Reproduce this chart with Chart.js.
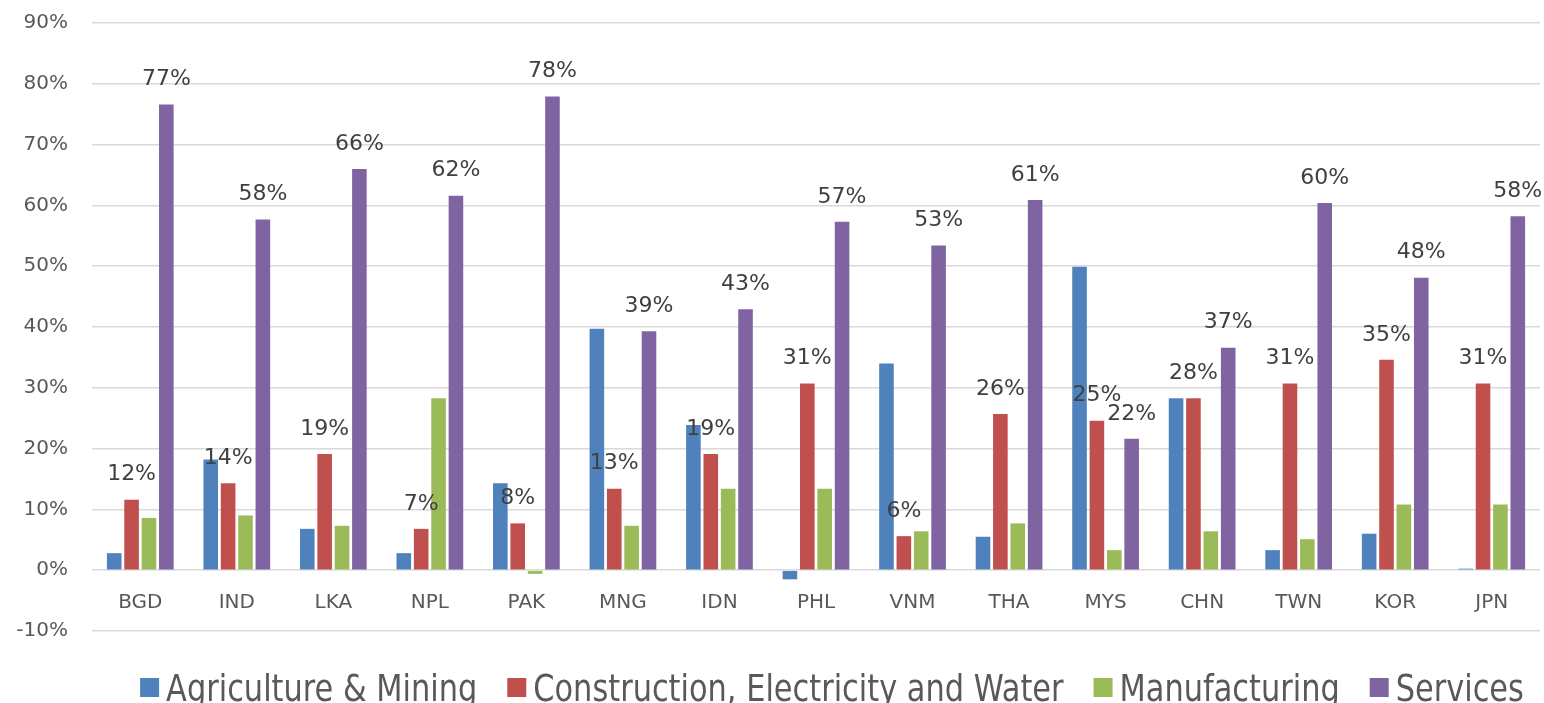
<!DOCTYPE html>
<html lang="en">
<head>
  <meta charset="UTF-8">
  <title>Sector shares by economy</title>
  <script src="https://cdn.jsdelivr.net/npm/chart.js@4.4.1/dist/chart.umd.min.js"></script>
  <style>
    * { margin: 0; padding: 0; box-sizing: border-box; }
    body { background: #fff; width: 1544px; height: 703px; overflow: hidden; }
  </style>
</head>
<body>
  <canvas id="myChart" width="1544" height="703"></canvas>

<script>
  var countries = ["BGD", "IND", "LKA", "NPL", "PAK", "MNG", "IDN", "PHL", "VNM", "THA", "MYS", "CHN", "TWN", "KOR", "JPN"];
  var seriesNames = ["Agriculture & Mining", "Construction, Electricity and Water", "Manufacturing", "Services"];
  var seriesColors = ["#4F81BD", "#C0504D", "#9BBB59", "#8064A2"];

  // shares in percent
  var agriculture   = [2.8, 18.2, 6.8, 2.8, 14.3, 39.7, 23.9, -1.5, 34.0, 5.5, 49.9, 28.3, 3.3, 6.0, 0.25];
  var construction  = [11.6, 14.3, 19.1, 6.8, 7.7, 13.4, 19.1, 30.7, 5.6, 25.7, 24.6, 28.3, 30.7, 34.6, 30.7];
  var manufacturing = [8.6, 9.0, 7.3, 28.3, -0.6, 7.3, 13.4, 13.4, 6.4, 7.7, 3.3, 6.4, 5.1, 10.8, 10.8];
  var services      = [76.6, 57.7, 66.0, 61.6, 77.9, 39.3, 42.9, 57.3, 53.4, 60.9, 21.6, 36.6, 60.4, 48.1, 58.2];

  // only these series get value labels
  var labelledSeries = [1, 3];

  var valueLabels = {
    id: 'valueLabels',
    afterDatasetsDraw: function (chart) {
      var ctx = chart.ctx;
      ctx.save();
      ctx.font = '22px "DejaVu Sans"';
      ctx.fillStyle = '#404040';
      ctx.textAlign = 'center';
      ctx.textBaseline = 'middle';
      labelledSeries.forEach(function (d) {
        var meta = chart.getDatasetMeta(d);
        meta.data.forEach(function (bar, i) {
          var v = chart.data.datasets[d].data[i];
          ctx.fillText(Math.round(v) + '%', bar.x, bar.y - 25);
        });
      });
      ctx.restore();
    }
  };

  // narrow legend along the bottom edge
  var bottomLegend = {
    id: 'bottomLegend',
    afterDraw: function (chart) {
      var ctx = chart.ctx;
      var sx = 0.8, gap = 30, box = 19, pad = 7;
      ctx.save();
      ctx.font = '38px "DejaVu Sans"';
      var widths = chart.data.datasets.map(function (ds) {
        return box + pad + ctx.measureText(ds.label).width * sx;
      });
      var total = widths.reduce(function (a, b) { return a + b; }, 0) + gap * (widths.length - 1);
      var x = (chart.width - total) / 2 + 60;
      chart.data.datasets.forEach(function (ds, i) {
        ctx.fillStyle = ds.backgroundColor;
        ctx.fillRect(x, 678, box, 19);
        ctx.save();
        ctx.translate(x + box + pad, 701);
        ctx.scale(sx, 1);
        ctx.fillStyle = '#595959';
        ctx.textBaseline = 'alphabetic';
        ctx.fillText(ds.label, 0, 0);
        ctx.restore();
        x += widths[i] + gap;
      });
      ctx.restore();
    }
  };

  var allSeries = [agriculture, construction, manufacturing, services];

  var myChart = new Chart("myChart", {
    type: "bar",
    data: {
      labels: countries,
      datasets: allSeries.map(function (vals, i) {
        return {
          label: seriesNames[i],
          data: vals,
          backgroundColor: seriesColors[i],
          borderWidth: 0,
          categoryPercentage: 0.72,
          barPercentage: 0.84
        };
      })
    },
    options: {
      responsive: false,
      animation: false,
      layout: { padding: { top: 23, right: 4, bottom: 72, left: 0 } },
      plugins: {
        legend: { display: false },
        tooltip: { enabled: false }
      },
      scales: {
        x: {
          // category labels sit just under the 0% line
          position: { y: 0 },
          grid: { display: false },
          border: { display: false },
          ticks: {
            color: '#595959',
            font: { family: '"DejaVu Sans"', size: 20 },
            padding: 13,
            maxRotation: 0
          }
        },
        y: {
          min: -10,
          max: 90,
          grid: { color: '#d9d9d9', lineWidth: 1.5, drawTicks: false },
          border: { display: false },
          ticks: {
            stepSize: 10,
            padding: 24,
            color: '#595959',
            font: { family: '"DejaVu Sans"', size: 20 },
            callback: function (v) { return v + '%'; }
          },
          afterFit: function (scale) {
            scale.width = 92;
            scale.paddingTop = 0;
            scale.paddingBottom = 0;
          }
        }
      }
    },
    plugins: [valueLabels, bottomLegend]
  });
</script>
</body>
</html>
